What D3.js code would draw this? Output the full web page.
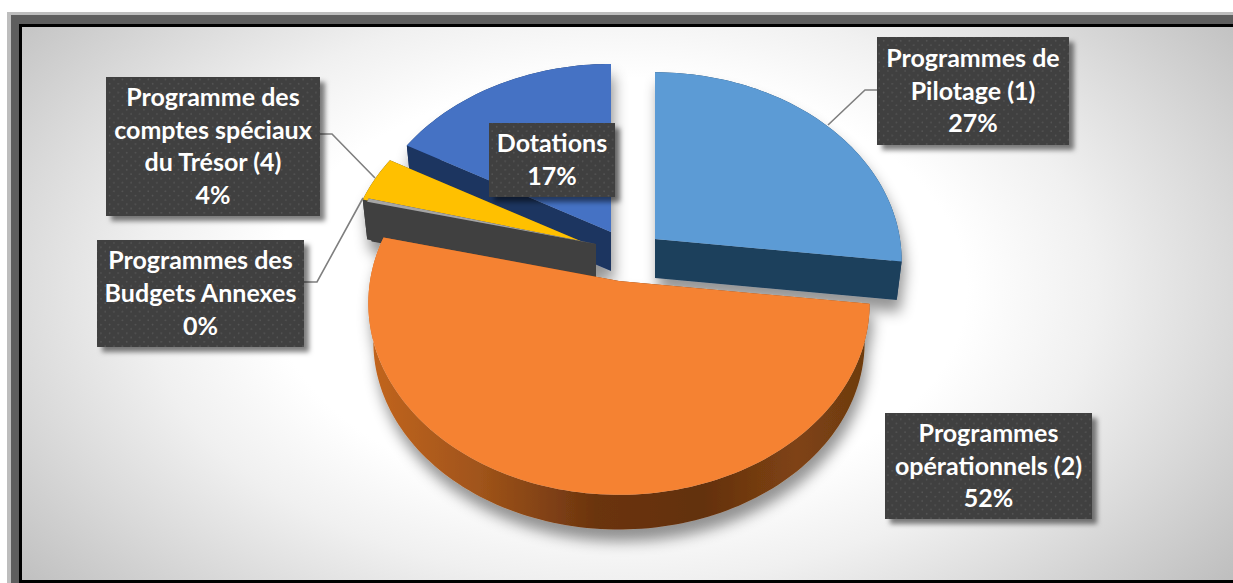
<!DOCTYPE html>
<html><head><meta charset="utf-8">
<script src="https://cdn.jsdelivr.net/npm/d3@7"></script>
<style>html,body{margin:0;padding:0;background:#fff;overflow:hidden}svg{display:block}</style>
</head><body><div id="c"></div>
<script>
const categories = ["Programmes de Pilotage (1)","Programmes opérationnels (2)","Programmes des Budgets Annexes","Programme des comptes spéciaux du Trésor (4)","Dotations"];
const values = [26.9,51.9,0.3,4,16.9];
const labelLines = [["Programmes de","Pilotage (1)"],["Programmes","opérationnels (2)"],["Programmes des","Budgets Annexes"],["Programme des","comptes spéciaux","du Trésor (4)"],["Dotations"]];
const topColors = ["#5b9bd5","#f58233","#a5a5a5","#ffc000","#4472c4"];
const wallColors = ["#1f3f5c","url(#wallO)","#404040","#404040","#1c3461"];

// layout (not data)
const W=1233,H=583;
const origins=[[655,239],[619,281],[596,244],[590,245],[611,232]];
const radii=[245,249,242,242,247];
const boxes=[[877,37,192,108],[885,413,207,106],[97,240,207,107],[106,77,214,139],[489,123,126,74]];
const leaders=[[[877,90],[865,90],[828,125]],null,[[304,282],[317,282],[363,198]],[[320,134],[332,134],[375,178]],null];
const drawOrder=[0,4,3,2,1];
const kR=187.5/247,persp=0.1158,depth=39,shrink=0.98;

const svg=d3.select("#c").append("svg").attr("width",W).attr("height",H);
const defs=svg.append("defs");
const bg=defs.append("radialGradient").attr("id","bg").attr("gradientUnits","userSpaceOnUse")
  .attr("cx",0).attr("cy",0).attr("r",1).attr("gradientTransform","translate(620,290) scale(770,470)");
[[0,"#ffffff"],[.45,"#ffffff"],[.62,"#f0f0f0"],[.8,"#d9d9d9"],[1,"#bfbfbf"]].forEach(s=>bg.append("stop").attr("offset",s[0]).attr("stop-color",s[1]));
const wo=defs.append("linearGradient").attr("id","wallO").attr("gradientUnits","userSpaceOnUse").attr("x1",369).attr("x2",872).attr("y1",0).attr("y2",0);
[[0,"#c2651f"],[.22,"#a0541a"],[.45,"#6b340f"],[.66,"#63300e"],[.85,"#7f4313"],[1,"#6b3a10"]].forEach(s=>wo.append("stop").attr("offset",s[0]).attr("stop-color",s[1]));
const pat=defs.append("pattern").attr("id","dots").attr("patternUnits","userSpaceOnUse").attr("width",8.6).attr("height",8.6);
pat.append("rect").attr("width",8.6).attr("height",8.6).attr("fill","#3f3f3f");
[[2.1,2.1],[6.4,6.4]].forEach(p=>pat.append("circle").attr("cx",p[0]).attr("cy",p[1]).attr("r",.9).attr("fill","#565656"));
const sh=defs.append("filter").attr("id","pieShadow").attr("x","-10%").attr("y","-15%").attr("width","120%").attr("height","135%");
sh.append("feDropShadow").attr("dx",3).attr("dy",12).attr("stdDeviation",7).attr("flood-color","#000").attr("flood-opacity",.42);
const bs=defs.append("filter").attr("id","boxShadow").attr("x","-10%").attr("y","-10%").attr("width","125%").attr("height","130%");
bs.append("feDropShadow").attr("dx",5).attr("dy",5).attr("stdDeviation",2.5).attr("flood-color","#000").attr("flood-opacity",.5);

// frame
svg.append("rect").attr("x",7).attr("y",12).attr("width",W-7).attr("height",H-12).attr("fill","#bdbdbd");
svg.append("rect").attr("x",11).attr("y",15).attr("width",W-11).attr("height",H-15).attr("fill","#5e5e5e");
svg.append("rect").attr("x",19).attr("y",24).attr("width",W-19).attr("height",H-24).attr("fill","#000");
svg.append("rect").attr("x",22).attr("y",27).attr("width",W-22).attr("height",553).attr("fill","url(#bg)");

const arcs=d3.pie().sort(null).value(d=>d).startAngle(0).endAngle(2*Math.PI)(values);
function proj(i,a,r,low){
  const R=radii[i], o=origins[i], X=Math.sin(a)*r*R, Z=Math.cos(a)*r;
  const s=1/(1+persp*Z);
  let dx=X*s, dy=-kR*R*Z*s;
  if(low){dx*=shrink;dy=dy*shrink+depth;}
  return [o[0]+dx,o[1]+dy];
}
const line=d3.line();
const pieG=svg.append("g").attr("filter","url(#pieShadow)");
drawOrder.forEach(i=>{
  const A=arcs[i], n=Math.max(2,Math.ceil((A.endAngle-A.startAngle)*40));
  const angs=d3.range(n+1).map(j=>A.startAngle+(A.endAngle-A.startAngle)*j/n);
  const g=pieG.append("g");
  const wall=wallColors[i];
  const outerT=angs.map(a=>proj(i,a,1,false)), outerB=angs.map(a=>proj(i,a,1,true));
  g.append("path").attr("d",line(outerT.concat(outerB.slice().reverse()))+"Z").attr("fill",wall);
  [A.endAngle,A.startAngle].forEach(a=>{
    g.append("path").attr("d",line([proj(i,a,0,false),proj(i,a,1,false),proj(i,a,1,true),proj(i,a,0,true)])+"Z").attr("fill",wall);
  });
  g.append("path").attr("d",line([proj(i,0,0,false)].concat(outerT))+"Z").attr("fill",topColors[i]);
});

leaders.forEach(l=>{ if(l) svg.append("path").attr("d",line(l)).attr("fill","none").attr("stroke","#7f7f7f").attr("stroke-width",1.6); });

const step=32.6, fs=25;
categories.forEach((c,i)=>{
  const b=boxes[i];
  svg.append("rect").attr("x",b[0]).attr("y",b[1]).attr("width",b[2]).attr("height",b[3]).attr("fill","url(#dots)").attr("filter","url(#boxShadow)");
  const lines=labelLines[i].concat([d3.format(".0f")(values[i])+"%"]);
  const cy=b[1]+b[3]/2, cx=b[0]+b[2]/2;
  const t=svg.append("text").attr("text-anchor","middle").attr("fill","#fff")
    .attr("font-family","Lato, 'Open Sans', sans-serif").attr("font-weight",700).attr("font-size",fs);
  lines.forEach((s,j)=>t.append("tspan").attr("x",cx).attr("y",cy+(j-(lines.length-1)/2)*step+fs*.34).text(s));
});
</script></body></html>
